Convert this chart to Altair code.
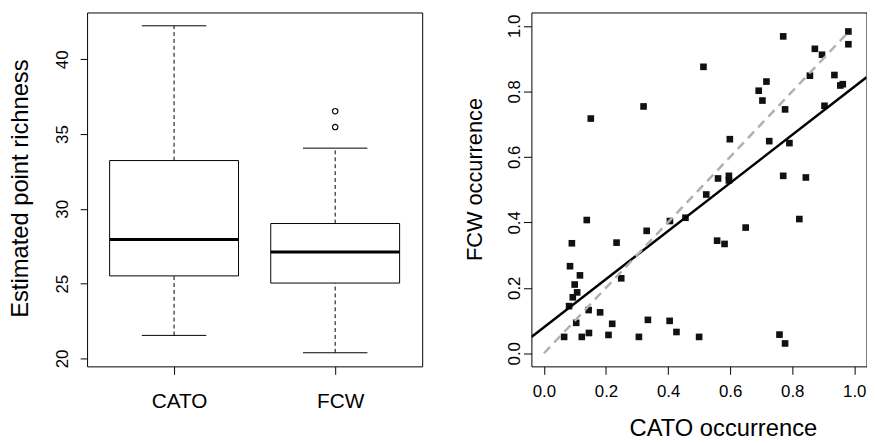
import altair as alt
import pandas as pd

# ---- Left panel: box plot summary ----
groups = ["CATO", "FCW"]
group_pos = [1, 2]
whisker_low = [21.54, 20.38]
box_q1 = [25.52, 25.04]
box_median = [27.95, 27.11]
box_q3 = [33.23, 29.02]
whisker_high = [42.24, 34.06]
outlier_pos = [2, 2]
outlier_values = [35.47, 36.53]
richness_ticks = [20, 25, 30, 35, 40]

# ---- Right panel: occurrence scatter ----
cato_occ = [0.981, 0.981, 0.771, 0.873, 0.896, 0.857, 0.936, 0.955, 0.963, 0.904,
            0.514, 0.692, 0.717, 0.704, 0.777, 0.321, 0.151, 0.599, 0.726, 0.791,
            0.561, 0.596, 0.596, 0.771, 0.844, 0.523, 0.138, 0.406, 0.456, 0.823,
            0.650, 0.331, 0.558, 0.582, 0.090, 0.234, 0.084, 0.116, 0.099, 0.107,
            0.093, 0.249, 0.081, 0.144, 0.181, 0.104, 0.220, 0.335, 0.405, 0.427,
            0.065, 0.122, 0.145, 0.208, 0.306, 0.500, 0.759, 0.777]
fcw_occ = [0.983, 0.944, 0.968, 0.930, 0.912, 0.848, 0.850, 0.818, 0.822, 0.756,
           0.875, 0.802, 0.830, 0.772, 0.745, 0.754, 0.717, 0.654, 0.648, 0.642,
           0.534, 0.542, 0.528, 0.542, 0.537, 0.485, 0.407, 0.404, 0.414, 0.410,
           0.384, 0.374, 0.344, 0.334, 0.336, 0.338, 0.266, 0.238, 0.210, 0.186,
           0.171, 0.229, 0.144, 0.132, 0.125, 0.093, 0.090, 0.102, 0.099, 0.065,
           0.050, 0.050, 0.062, 0.056, 0.050, 0.050, 0.057, 0.030]
fit_x = [-0.0404, 1.0394]
fit_y = [0.050, 0.843]
ref_x = [0.0, 0.98]
ref_y = [0.0, 0.98]
occ_ticks = [0.0, 0.2, 0.4, 0.6, 0.8, 1.0]

FONT = "Liberation Sans"
W, H = 339, 358

# ---------------- left panel ----------------
box_df = pd.DataFrame({
    "group": groups, "pos": group_pos, "lo": whisker_low, "q1": box_q1,
    "med": box_median, "q3": box_q3, "hi": whisker_high,
})
out_df = pd.DataFrame({"pos": outlier_pos, "val": outlier_values})

label_expr = " : ".join(
    [f"datum.value == {p} ? '{g}'" for p, g in zip(group_pos, groups)]) + " : ''"

xs_l = alt.Scale(domain=[0.46, 2.54], nice=False, zero=False)
ys_l = alt.Scale(domain=[19.47, 43.13], nice=False, zero=False)

ax_x_l = alt.Axis(values=group_pos, labelExpr=label_expr, title=None, grid=False,
                  domain=False, tickSize=8, tickColor="black", labelFontSize=21,
                  labelColor="black", labelBaseline="alphabetic", labelPadding=33.6,
                  labelOffset=5, labelFont=FONT)
ax_y_l = alt.Axis(values=richness_ticks, title="Estimated point richness", grid=False,
                  domain=False, tickSize=7, tickColor="black", labelFontSize=17,
                  labelColor="black", labelAngle=270, labelAlign="center",
                  labelBaseline="alphabetic", labelPadding=13, labelFont=FONT,
                  titleFont=FONT, titleFontSize=24, titleFontWeight="normal",
                  titleColor="black", titleAngle=270, titleAlign="center",
                  titleBaseline="alphabetic", titleX=-60.4, titleY=177.7)

base_l = alt.Chart(box_df).transform_calculate(
    box_l="datum.pos - 0.4", box_r="datum.pos + 0.4",
    cap_l="datum.pos - 0.2", cap_r="datum.pos + 0.2")

wl = base_l.mark_rule(color="black", strokeWidth=1, strokeDash=[4, 3]).encode(
    x=alt.X("pos:Q", scale=xs_l, axis=ax_x_l),
    y=alt.Y("lo:Q", scale=ys_l, axis=ax_y_l), y2="q1:Q")
wh = base_l.mark_rule(color="black", strokeWidth=1, strokeDash=[4, 3]).encode(
    x=alt.X("pos:Q", scale=xs_l, axis=ax_x_l),
    y=alt.Y("q3:Q", scale=ys_l, axis=ax_y_l), y2="hi:Q")
cl = base_l.mark_rule(color="black", strokeWidth=1).encode(
    x=alt.X("cap_l:Q", scale=xs_l, axis=ax_x_l), x2="cap_r:Q",
    y=alt.Y("lo:Q", scale=ys_l, axis=ax_y_l))
ch = base_l.mark_rule(color="black", strokeWidth=1).encode(
    x=alt.X("cap_l:Q", scale=xs_l, axis=ax_x_l), x2="cap_r:Q",
    y=alt.Y("hi:Q", scale=ys_l, axis=ax_y_l))
bx = base_l.mark_rect(fill="white", stroke="black", strokeWidth=1).encode(
    x=alt.X("box_l:Q", scale=xs_l, axis=ax_x_l), x2="box_r:Q",
    y=alt.Y("q1:Q", scale=ys_l, axis=ax_y_l), y2="q3:Q")
md = base_l.mark_rule(color="black", strokeWidth=3).encode(
    x=alt.X("box_l:Q", scale=xs_l, axis=ax_x_l), x2="box_r:Q",
    y=alt.Y("med:Q", scale=ys_l, axis=ax_y_l))
ol = alt.Chart(out_df).mark_point(shape="circle", filled=False, color="black",
                                  size=30, strokeWidth=1.2, opacity=1).encode(
    x=alt.X("pos:Q", scale=xs_l, axis=ax_x_l),
    y=alt.Y("val:Q", scale=ys_l, axis=ax_y_l))

left = alt.layer(wl, wh, cl, ch, bx, md, ol).properties(width=W, height=H)

# ---------------- right panel ----------------
pts_df = pd.DataFrame({"cato": cato_occ, "fcw": fcw_occ})
fit_df = pd.DataFrame({"cato": fit_x, "fcw": fit_y})
ref_df = pd.DataFrame({"cato": ref_x, "fcw": ref_y})

xs_r = alt.Scale(domain=[-0.0404, 1.0394], nice=False, zero=False)
ys_r = alt.Scale(domain=[-0.040, 1.041], nice=False, zero=False)

ax_x_r = alt.Axis(values=occ_ticks, format=".1f", title="CATO occurrence", grid=False,
                  domain=False, tickSize=8, tickColor="black", labelFontSize=17,
                  labelColor="black", labelBaseline="alphabetic", labelPadding=22,
                  labelFont=FONT, titleFont=FONT, titleFontSize=24,
                  titleFontWeight="normal", titleColor="black", titleAlign="center",
                  titleBaseline="alphabetic", titleX=193.7, titleY=70)
ax_y_r = alt.Axis(values=occ_ticks, format=".1f", title="FCW occurrence", grid=False,
                  domain=False, tickSize=8, tickColor="black", labelFontSize=17,
                  labelColor="black", labelAngle=270, labelAlign="center",
                  labelBaseline="alphabetic", labelPadding=4.3, labelFont=FONT,
                  titleFont=FONT, titleFontSize=22, titleFontWeight="normal",
                  titleColor="black", titleAngle=270, titleAlign="center",
                  titleBaseline="alphabetic", titleX=-50, titleY=168.5)

pts = alt.Chart(pts_df).mark_square(size=45, color="#111111", opacity=1).encode(
    x=alt.X("cato:Q", scale=xs_r, axis=ax_x_r),
    y=alt.Y("fcw:Q", scale=ys_r, axis=ax_y_r))
fit = alt.Chart(fit_df).mark_line(color="black", strokeWidth=2.5, clip=True).encode(
    x=alt.X("cato:Q", scale=xs_r, axis=ax_x_r),
    y=alt.Y("fcw:Q", scale=ys_r, axis=ax_y_r))
ref = alt.Chart(ref_df).mark_line(color="#b0b0b0", strokeWidth=2.5,
                                  strokeDash=[9, 6], clip=True).encode(
    x=alt.X("cato:Q", scale=xs_r, axis=ax_x_r),
    y=alt.Y("fcw:Q", scale=ys_r, axis=ax_y_r))

right = alt.layer(pts, fit, ref).properties(width=W, height=H)

chart = alt.hconcat(left, right, spacing=110.5, bounds="flush").properties(
    padding={"left": 0, "top": 1, "right": 0, "bottom": 0},
    background="white",
).configure(
    font=FONT,
    view=alt.ViewConfig(stroke="black", strokeWidth=1),
)

chart.save("out.html", embed_options={"renderer": "svg", "actions": False})
